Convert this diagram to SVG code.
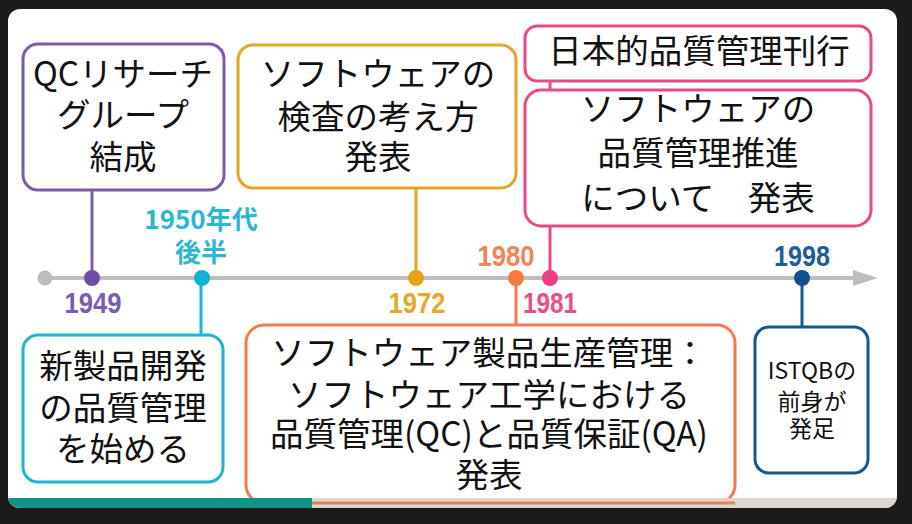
<svg xmlns="http://www.w3.org/2000/svg" width="912" height="524" viewBox="0 0 912 524">
<defs>
<style>
.box{fill:#ffffff;stroke-width:3}
.t{font-family:"Noto Sans CJK JP","Noto Sans",sans-serif;font-size:33.5px;fill:#111111;text-anchor:middle}
.ts{font-size:23px}
.yr{font-family:"Liberation Sans","Noto Sans",sans-serif;font-weight:bold;font-size:30px;text-anchor:middle}
.yj{font-family:"Noto Sans CJK JP",sans-serif;font-weight:bold;font-size:26px;text-anchor:middle}
.con{stroke-width:3;fill:none}
</style>
<clipPath id="card"><rect x="8" y="9" width="889" height="499" rx="12"/></clipPath>
</defs>
<rect x="0" y="0" width="912" height="524" fill="#1b1b1b"/>
<rect x="8" y="9" width="889" height="499" rx="12" fill="#ffffff"/>

<!-- timeline -->
<g id="timeline">
<line x1="45" y1="278" x2="856" y2="278" stroke="#bdbdbd" stroke-width="4"/>
<polygon points="853,270 878,278 853,286" fill="#bdbdbd"/>
<circle cx="45" cy="278" r="7.5" fill="#bdbdbd"/>
</g>

<!-- connectors -->
<g id="connectors">
<line class="con" x1="92" y1="190" x2="92" y2="278" stroke="#7a5ca8"/>
<line class="con" x1="201" y1="278" x2="201" y2="335" stroke="#22b5d2"/>
<line class="con" x1="416" y1="188" x2="416" y2="278" stroke="#e5a526"/>
<line class="con" x1="516" y1="278" x2="516" y2="325" stroke="#f27b4c"/>
<line class="con" x1="550" y1="80" x2="550" y2="278" stroke="#e94a86"/>
<line class="con" x1="802" y1="278" x2="802" y2="327" stroke="#1a5593"/>
</g>

<g id="node-1949">
<rect class="box" x="23" y="44" width="201" height="146" rx="15" stroke="#7a5ca8"/>
<text class="t" x="123" y="86">QCリサーチ</text>
<text class="t" x="123" y="127">グループ</text>
<text class="t" x="123" y="169">結成</text>
<circle cx="92" cy="278" r="8" fill="#6e4fa6"/>
<text class="yr" x="93" y="313" fill="#7a5cb0" textLength="57" lengthAdjust="spacingAndGlyphs">1949</text>
</g>

<g id="node-1950s">
<text class="yj" x="201" y="229" fill="#2bb6d4">1950年代</text>
<text class="yj" x="201" y="262" fill="#2bb6d4">後半</text>
<circle cx="202" cy="278" r="8" fill="#10b3d3"/>
<rect class="box" x="23" y="335" width="200" height="147" rx="15" stroke="#22b5d2"/>
<text class="t" x="123" y="378">新製品開発</text>
<text class="t" x="123" y="420">の品質管理</text>
<text class="t" x="123" y="461">を始める</text>
</g>

<g id="node-1972">
<rect class="box" x="238" y="45" width="278" height="143" rx="15" stroke="#e5a526"/>
<text class="t" x="378" y="86">ソフトウェアの</text>
<text class="t" x="378" y="129">検査の考え方</text>
<text class="t" x="378" y="169">発表</text>
<circle cx="416" cy="278" r="8" fill="#e8a11a"/>
<text class="yr" x="417" y="313" fill="#e9a62a" textLength="57" lengthAdjust="spacingAndGlyphs">1972</text>
</g>

<g id="node-1980">
<text class="yr" x="506" y="266" fill="#f38458" textLength="57" lengthAdjust="spacingAndGlyphs">1980</text>
<circle cx="516" cy="278" r="8" fill="#f77a3e"/>
<rect class="box" x="246" y="325" width="489" height="178" rx="18" stroke="#f27b4c"/>
<text class="t" x="489" y="365">ソフトウェア製品生産管理：</text>
<text class="t" x="489" y="407">ソフトウェア工学における</text>
<text class="t" x="489" y="446">品質管理(QC)と品質保証(QA)</text>
<text class="t" x="489" y="487">発表</text>
</g>

<g id="node-1981">
<rect class="box" x="525" y="26" width="346" height="55" rx="12" stroke="#e94a86"/>
<text class="t" x="699" y="63" font-size="34.5">日本的品質管理刊行</text>
<rect class="box" x="525" y="90" width="346" height="136" rx="16" stroke="#e94a86"/>
<text class="t" x="698" y="121">ソフトウェアの</text>
<text class="t" x="698" y="165">品質管理推進</text>
<text class="t" x="698" y="210">について　発表</text>
<circle cx="550" cy="278" r="8" fill="#f03c84"/>
<text class="yr" x="550" y="313" fill="#ea4d8c" textLength="54" lengthAdjust="spacingAndGlyphs">1981</text>
</g>

<g id="node-1998">
<text class="yr" x="802" y="266" fill="#1f5c9c" textLength="56" lengthAdjust="spacingAndGlyphs">1998</text>
<circle cx="802" cy="278" r="8" fill="#11508f"/>
<rect class="box" x="755" y="327" width="113" height="146" rx="14" stroke="#1a5593"/>
<text class="t ts" x="812" y="379">ISTQBの</text>
<text class="t ts" x="812" y="410">前身が</text>
<text class="t ts" x="812" y="437">発足</text>
</g>

<g id="progress" clip-path="url(#card)">
<rect x="8" y="498" width="889" height="10" fill="#dcd6d3"/>
<line x1="312" y1="503" x2="735" y2="503" stroke="#e0845e" stroke-width="3"/>
<rect x="8" y="498" width="304" height="10" fill="#0f9586"/>
</g>
</svg>
